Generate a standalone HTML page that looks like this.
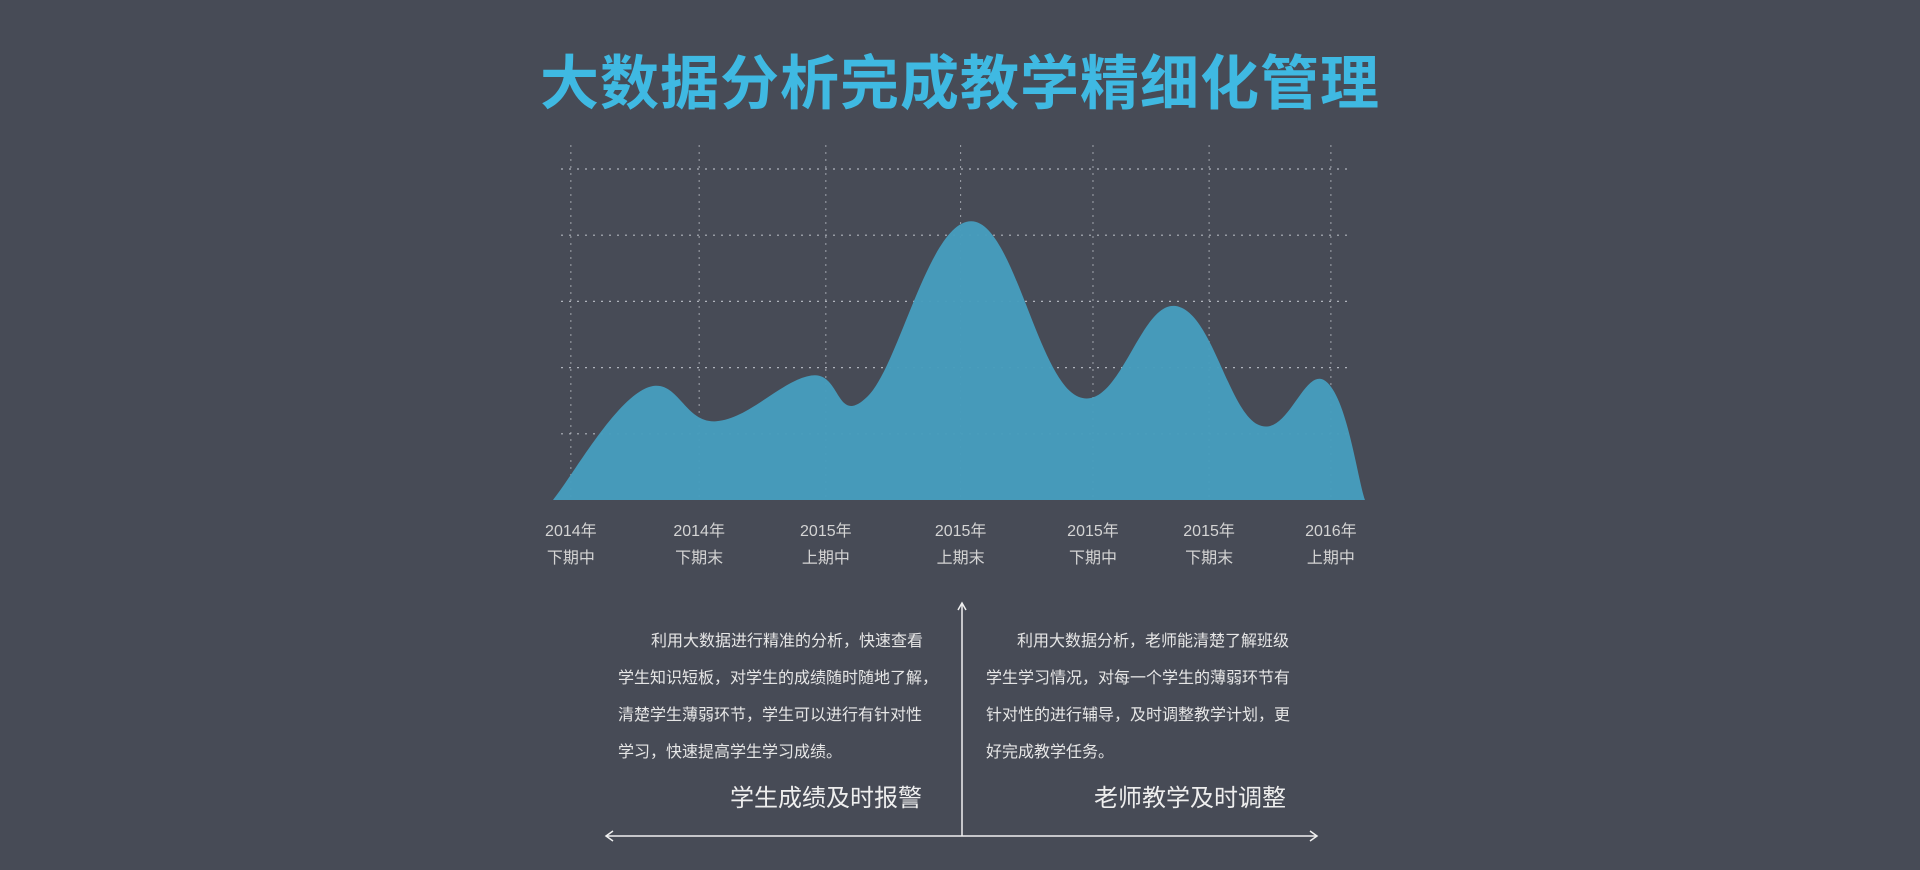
<!DOCTYPE html>
<html><head><meta charset="utf-8"><style>
body{margin:0;width:1920px;height:870px;background:#474b56;overflow:hidden;font-family:"Liberation Sans","Noto Sans CJK SC",sans-serif;}
.t{position:absolute;white-space:nowrap;}
</style></head><body>
<div class="t" style="left:0;width:1920px;top:36px;text-align:center;font-size:59px;font-weight:bold;color:#3fb9e2;letter-spacing:1px;">大数据分析完成教学精细化管理</div>
<svg id="chart" width="1920" height="600" style="position:absolute;left:0;top:0"></svg>
<div class="t" style="left:618px;top:623px;font-size:16px;line-height:37px;color:#e6e6e6;"><span style="padding-left:33px">利用大数据进行精准的分析，快速查看</span><br>学生知识短板，对学生的成绩随时随地了解，<br>清楚学生薄弱环节，学生可以进行有针对性<br>学习，快速提高学生学习成绩。</div>
<div class="t" style="left:986px;top:623px;font-size:16px;line-height:37px;color:#e6e6e6;"><span style="padding-left:31px">利用大数据分析，老师能清楚了解班级</span><br>学生学习情况，对每一个学生的薄弱环节有<br>针对性的进行辅导，及时调整教学计划，更<br>好完成教学任务。</div>
<div class="t" style="left:730px;top:778px;font-size:24px;color:#eeeeee;">学生成绩及时报警</div>
<div class="t" style="left:1094px;top:778px;font-size:24px;color:#eeeeee;">老师教学及时调整</div>
<svg width="1920" height="870" style="position:absolute;left:0;top:0;pointer-events:none">
<line x1="962" y1="604" x2="962" y2="836" stroke="#f0f0f0" stroke-width="1.5"/>
<polyline points="958,610 962,603 966,610" fill="none" stroke="#f0f0f0" stroke-width="1.5"/>
<line x1="607" y1="836" x2="1316" y2="836" stroke="#f0f0f0" stroke-width="1.5"/>
<polyline points="613,831 606,836 613,841" fill="none" stroke="#f0f0f0" stroke-width="1.5"/>
<polyline points="1310,831 1317,836 1310,841" fill="none" stroke="#f0f0f0" stroke-width="1.5"/>
</svg>
<script>
const timeline=[0,1.13,2.01,3.18,3.87,5.15,6.47,7.67,8.68,9.51,10];
const values=[0,1.68,1.19,1.88,1.56,4.21,1.56,2.93,1.14,1.80,0];
const yTicks=[1,2,3,4,5];
const catYears=["2014年","2014年","2015年","2015年","2015年","2015年","2016年"];
const catTerms=["下期中","下期末","上期中","上期末","下期中","下期末","上期中"];
const catPos=[0.22,1.8,3.36,5.02,6.65,8.08,9.58];
const svg=document.getElementById('chart');
const NS='http://www.w3.org/2000/svg';
const x=t=>553+t*81.2;
const y=v=>500-v*66.2;
function mk(tag,attrs){const e=document.createElementNS(NS,tag);for(const k in attrs)e.setAttribute(k,attrs[k]);svg.appendChild(e);return e;}
catPos.forEach((c,i)=>{const l=mk('line',{x1:x(c),x2:x(c),y1:145,y2:500,stroke:'#a0a4ac','stroke-width':1,'stroke-dasharray':'2 5'});

});
yTicks.forEach(v=>{const l=mk('line',{x1:561,x2:1347,y1:y(v),y2:y(v),stroke:'#b0b4bc','stroke-width':1.2,'stroke-dasharray':'2 6'});

});
const P=timeline.map((t,i)=>[x(t),y(values[i])]);
let d=`M${P[0][0]},${y(0)} L${P[0][0]},${P[0][1]}`;
for(let i=0;i<P.length-1;i++){const p0=P[Math.max(0,i-1)],p1=P[i],p2=P[i+1],p3=P[Math.min(P.length-1,i+2)];
const k=0.2;const c1=[p1[0]+(p2[0]-p0[0])*k,p1[1]+(p2[1]-p0[1])*k],c2=[p2[0]-(p3[0]-p1[0])*k,p2[1]-(p3[1]-p1[1])*k];
d+=` C${c1[0]},${Math.min(c1[1],y(0))} ${c2[0]},${Math.min(c2[1],y(0))} ${p2[0]},${p2[1]}`;}
d+=' Z';
const area=mk('path',{d:d,fill:'#469dbd',opacity:0.97});


catPos.forEach((c,i)=>{
const a=mk('text',{x:x(c),y:536,'text-anchor':'middle','font-size':16,fill:'#d4d4d4'});a.textContent=catYears[i];


const b=mk('text',{x:x(c),y:563,'text-anchor':'middle','font-size':16,fill:'#d4d4d4'});b.textContent=catTerms[i];

});
</script>
</body></html>
